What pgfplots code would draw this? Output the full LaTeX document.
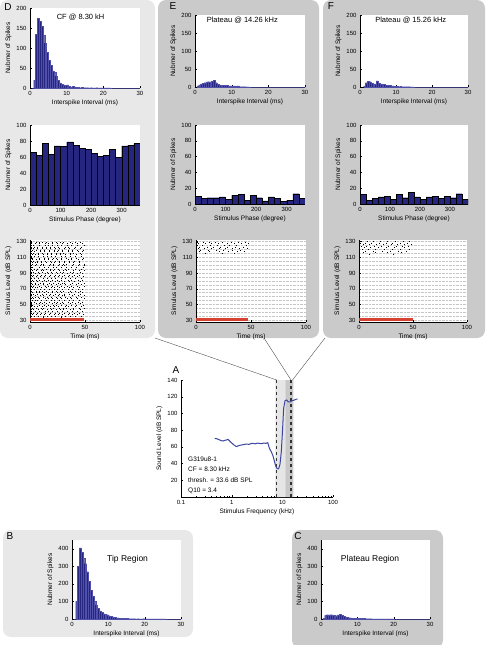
\documentclass[border=0pt]{standalone}
\usepackage{fontspec}
\setmainfont{Liberation Sans}
\usepackage{pgfplots}
\usepackage{pgfplotstable}
\pgfplotsset{compat=1.18}
\definecolor{barblue}{RGB}{38,38,128}
\definecolor{baredge}{RGB}{80,80,170}
\definecolor{lightpanel}{RGB}{232,232,232}
\definecolor{darkpanel}{RGB}{202,202,202}
\definecolor{curveblue}{RGB}{60,70,160}
\definecolor{stimred}{RGB}{215,65,50}
\definecolor{bandlight}{RGB}{230,230,230}
\definecolor{banddark}{RGB}{200,200,200}

\pgfplotsset{
  panel/.style={
    scale only axis,
    axis background/.style={fill=white},
    axis x line*=bottom, axis y line*=left,
    axis line style={-, line width=0.35pt},
    tick align=inside,
    major tick length=2pt, minor tick length=1.2pt,
    every tick/.append style={line width=0.3pt, black},
    tick label style={font=\fontsize{6}{6}\selectfont},
    every axis label/.append style={font=\fontsize{6.5}{7}\selectfont},
    /pgf/number format/assume math mode=true,
    xlabel style={yshift=2.5pt}, ylabel style={yshift=-2pt},
  },
  isi/.style={panel, xmin=0, xmax=30, ymin=0, ymax=200, xtick={0,10,20,30}, ytick={0,50,100,150,200},
    xlabel={Interspike Interval (ms)}, ylabel={Nubmer of Spikes}},
  isibig/.style={panel, xmin=0, xmax=30, ymin=0, ymax=450, xtick={0,10,20,30}, ytick={0,100,200,300,400},
    xlabel={Interspike Interval (ms)}, ylabel={Nubmer of Spikes}},
  phase/.style={panel, xmin=0, xmax=360, ymin=0, ymax=100, xtick={0,100,200,300}, ytick={0,20,...,100},
    xlabel={Stimulus Phase (degree)}, ylabel={Nubmer of Spikes}},
  raster/.style={panel, xmin=0, xmax=100, ymin=28, ymax=132, xtick={0,50,100}, ytick={30,50,...,130},
    minor ytick={35,40,...,130}, ymajorgrids, yminorgrids,
    grid style={densely dotted, gray!45, line width=0.3pt},
    xlabel={Time (ms)}, ylabel={Simulus Level (dB SPL)}},
  isibar/.style={ybar interval, fill=barblue, draw=baredge, line width=0.2pt},
  phasebar/.style={ybar interval, fill=barblue, draw=black, line width=0.3pt},
  spikes/.style={only marks, mark=|, mark size=0.5pt, mark options={line width=0.35pt, black}},
  stim/.style={stimred, line width=3pt},
}

\pgfplotstableread{
x y
0.5 0
1.0 20
1.5 135
2.0 174
2.5 167
3.0 155
3.5 132
4.0 112
4.5 90
5.0 69
5.5 57
6.0 43
6.5 40
7.0 30
7.5 20
8.0 13
8.5 9
9.0 8
9.5 7
10.0 8
10.5 4
11.0 3
11.5 4
12.0 3
12.5 2
13.0 2
13.5 1
14.0 2
14.5 1
15.0 1
15.5 1
16.0 0.5
16.5 1
17.0 0.5
17.5 0.5
18.0 1
18.5 0.5
19.0 0.5
20.0 0.5
21.0 0.5
22.0 0
30.0 0
}\isiD

\pgfplotstableread{
x y
0.5 3
1.0 6
1.5 9
2.0 11
2.5 12
3.0 14
3.5 15
4.0 14
4.5 16
5.0 18
5.5 12
6.0 8
6.5 6
7.0 5
7.5 5
8.0 4
8.5 5
9.0 3
9.5 3
10.0 2
10.5 3
11.0 2
11.5 3
12.0 1
12.5 1
13.0 1
14.0 0.5
15.0 0
30.0 0
}\isiE

\pgfplotstableread{
x y
1.0 3
1.5 12
2.0 16
2.5 15
3.0 10
3.5 8
4.0 9
4.5 17
5.0 11
5.5 9
6.0 6
6.5 8
7.0 5
7.5 4
8.0 4
8.5 2
9.0 3
9.5 2
10.0 2
10.5 1
11.0 2
11.5 1
12.0 1
13.0 1
14.0 0.5
15.0 0
30.0 0
}\isiF

\pgfplotstableread{
x y
0.5 0
1.0 100
1.5 300
2.0 405
2.5 380
3.0 345
3.5 315
4.0 270
4.5 215
5.0 165
5.5 130
6.0 100
6.5 80
7.0 62
7.5 47
8.0 37
8.5 30
9.0 26
9.5 25
10.0 19
10.5 15
11.0 12
11.5 10
12.0 7
12.5 6
13.0 4
13.5 4
14.0 3
14.5 3
15.0 3
15.5 2
16.0 2
16.5 2
17.0 2
17.5 1
18.0 2
18.5 1
19.0 1
19.5 2
20.0 1
21.0 1
22.0 1
23.0 0.5
25.0 0.5
26.0 0
30.0 0
}\isiB

\pgfplotstableread{
x y
0.5 3
1.0 20
1.5 25
2.0 24
2.5 25
3.0 23
3.5 22
4.0 19
4.5 24
5.0 26
5.5 20
6.0 15
6.5 12
7.0 10
7.5 8
8.0 6
8.5 5
9.0 5
9.5 4
10.0 5
10.5 4
11.0 3
11.5 3
12.0 2
12.5 2
13.0 2
14.0 1
15.0 1
16.0 0.5
18.0 0.5
20.0 0
30.0 0
}\isiC

\pgfplotstableread{
x y
0 66
20 62
40 77
60 63
80 74
100 73
120 79
140 75
160 71
180 70
200 65
220 61
240 62
260 70
280 60
300 74
320 75
340 77
360 0
}\phD

\pgfplotstableread{
x y
0 10
20 7
40 8
60 8
80 9
100 6
120 11
140 12
160 5
180 11
200 8
220 4
240 9
260 7
280 3
300 5
320 13
340 7
360 0
}\phE

\pgfplotstableread{
x y
0 12
20 5
40 7
60 9
80 10
100 6
120 12
140 8
160 15
180 9
200 6
220 9
240 10
260 7
280 10
300 8
320 13
340 6
360 0
}\phF

\pgfplotstableread{
f db
0.464 70.2
0.52 69.5
0.582 68.2
0.63 67.4
0.676 67.0
0.73 67.8
0.786 68.2
0.847 69.0
0.92 66.8
0.985 65.0
1.1 62.5
1.235 60.3
1.38 61.5
1.55 62.2
1.75 62.8
1.94 63.4
2.2 63.0
2.45 64.0
2.62 64.2
2.9 63.6
3.2 64.4
3.54 64.2
3.9 63.8
4.3 64.6
4.7 64.2
5.15 65.0
5.56 58.3
6.0 54.5
6.46 50.3
6.9 44.0
7.29 38.3
7.65 35.2
7.98 33.9
8.3 33.6
8.48 34.3
8.75 36.5
9.0 39.5
9.55 54.3
10.1 80.2
10.6 106.0
11.3 115.3
12.2 116.1
13.1 113.7
14.3 113.7
15.26 115.0
15.9 115.3
17.2 116.0
18.5 116.9
19.95 117.3
}\tuning

\begin{document}
\begin{tikzpicture}[x=1pt,y=1pt]
\path[use as bounding box] (0,0) rectangle (486,-645);
% panel backgrounds
\fill[lightpanel, rounded corners=8pt] (0,0) rectangle (155,-338);
\fill[darkpanel, rounded corners=8pt] (158,0) rectangle (319,-338);
\fill[darkpanel, rounded corners=8pt] (323,0) rectangle (485,-338);
\fill[lightpanel, rounded corners=8pt] (3,-530) rectangle (193,-637);
\fill[darkpanel, rounded corners=8pt] (292,-530) rectangle (443,-648);
% connecting lines
\draw[line width=0.35pt, gray!50!black] (155,-338) -- (276.7,-380);
\draw[line width=0.35pt, gray!50!black] (264,-338) -- (291,-380);
\draw[line width=0.35pt, gray!50!black] (325,-338) -- (292.5,-380);
% panel letters
\node[font=\fontsize{10}{10}\selectfont] at (8,-7) {D};
\node[font=\fontsize{10}{10}\selectfont] at (173,-6) {E};
\node[font=\fontsize{10}{10}\selectfont] at (331,-6) {F};
\node[font=\fontsize{10}{10}\selectfont] at (176,-370) {A};
\node[font=\fontsize{10}{10}\selectfont] at (10,-536) {B};
\node[font=\fontsize{10}{10}\selectfont] at (298,-536) {C};

% ---------------- D ----------------
\begin{axis}[isi, at={(30pt,-88pt)}, anchor=south west, width=110pt, height=80pt]
\addplot[isibar] table {\isiD};
\node[font=\fontsize{7.5}{8}\selectfont] at (rel axis cs:0.46,0.88) {CF @ 8.30 kH};
\end{axis}
\begin{axis}[phase, at={(30pt,-205pt)}, anchor=south west, width=110pt, height=80pt]
\addplot[phasebar] table {\phD};
\end{axis}
\begin{axis}[raster, at={(30pt,-321.7pt)}, anchor=south west, width=110pt, height=81.7pt]
\addplot[spikes] table[row sep=\\] {x y\\
1.2 35\\ 3.9 35\\ 7.6 35\\ 11.8 35\\ 15.3 35\\ 19.7 35\\ 23.1 35\\ 27.9 35\\ 32.4 35\\ 36.2 35\\ 41.5 35\\ 46.8 35\\
1.6 37\\ 5.2 37\\ 9.1 37\\ 12.7 37\\ 17.4 37\\ 21.6 37\\ 25.8 37\\ 29.3 37\\ 34.9 37\\ 38.4 37\\ 43.1 37\\ 48.5 37\\
0.9 39\\ 2.8 39\\ 6.9 39\\ 10.4 39\\ 14.1 39\\ 18.6 39\\ 22.9 39\\ 26.7 39\\ 31.2 39\\ 35.5 39\\ 40.2 39\\ 44.7 39\\
1.4 41\\ 4.6 41\\ 8.3 41\\ 13.5 41\\ 16.8 41\\ 20.4 41\\ 24.6 41\\ 28.8 41\\ 33.7 41\\ 37.9 41\\ 42.6 41\\ 47.3 41\\
1.1 43\\ 3.3 43\\ 7.1 43\\ 11.2 43\\ 15.9 43\\ 19.2 43\\ 23.8 43\\ 27.4 43\\ 30.6 43\\ 36.8 43\\ 39.7 43\\ 45.9 43\\
1.8 45\\ 5.7 45\\ 9.8 45\\ 12.3 45\\ 17.9 45\\ 21.1 45\\ 26.2 45\\ 29.9 45\\ 33.1 45\\ 38.9 45\\ 44.3 45\\ 49.2 45\\
1.0 47\\ 4.1 47\\ 6.4 47\\ 10.9 47\\ 14.7 47\\ 18.1 47\\ 22.4 47\\ 25.3 47\\ 31.8 47\\ 35.1 47\\ 41.1 47\\ 46.2 47\\
1.5 49\\ 2.4 49\\ 8.7 49\\ 13.1 49\\ 16.3 49\\ 20.9 49\\ 24.2 49\\ 28.3 49\\ 32.9 49\\ 37.4 49\\ 42.2 49\\ 48.1 49\\
1.3 51\\ 5.5 51\\ 7.9 51\\ 11.5 51\\ 15.1 51\\ 19.9 51\\ 23.4 51\\ 27.1 51\\ 30.3 51\\ 36.5 51\\ 40.8 51\\ 45.3 51\\
0.8 53\\ 3.6 53\\ 9.4 53\\ 12.9 53\\ 17.1 53\\ 21.8 53\\ 25.1 53\\ 29.6 53\\ 34.3 53\\ 38.1 53\\ 43.7 53\\ 47.8 53\\
1.7 55\\ 4.9 55\\ 6.6 55\\ 10.1 55\\ 14.4 55\\ 18.9 55\\ 22.1 55\\ 26.4 55\\ 31.5 55\\ 35.8 55\\ 39.4 55\\ 44.9 55\\
1.2 57\\ 2.9 57\\ 8.1 57\\ 13.9 57\\ 16.5 57\\ 20.1 57\\ 24.9 57\\ 28.1 57\\ 33.4 57\\ 37.2 57\\ 42.9 57\\ 49.5 57\\
1.9 59\\ 5.1 59\\ 7.3 59\\ 11.6 59\\ 15.6 59\\ 19.4 59\\ 23.6 59\\ 27.7 59\\ 32.1 59\\ 36.9 59\\ 41.8 59\\ 46.5 59\\
1.1 61\\ 4.4 61\\ 9.6 61\\ 12.1 61\\ 17.6 61\\ 21.4 61\\ 25.5 61\\ 29.1 61\\ 30.9 61\\ 38.6 61\\ 44.1 61\\ 48.8 61\\
1.4 63\\ 3.1 63\\ 6.2 63\\ 10.7 63\\ 14.9 63\\ 18.4 63\\ 22.7 63\\ 26.1 63\\ 31.1 63\\ 35.3 63\\ 40.5 63\\ 45.6 63\\
1.6 65\\ 5.9 65\\ 8.5 65\\ 13.3 65\\ 16.1 65\\ 20.6 65\\ 24.4 65\\ 28.6 65\\ 34.6 65\\ 37.7 65\\ 43.4 65\\ 47.6 65\\
1.3 67\\ 5.5 67\\ 7.9 67\\ 11.5 67\\ 15.1 67\\ 19.9 67\\ 23.4 67\\ 27.1 67\\ 30.3 67\\ 36.5 67\\ 40.8 67\\ 45.3 67\\
0.8 69\\ 3.6 69\\ 9.4 69\\ 12.9 69\\ 17.1 69\\ 21.8 69\\ 25.1 69\\ 29.6 69\\ 34.3 69\\ 38.1 69\\ 43.7 69\\ 47.8 69\\
1.7 71\\ 4.9 71\\ 6.6 71\\ 10.1 71\\ 14.4 71\\ 18.9 71\\ 22.1 71\\ 26.4 71\\ 31.5 71\\ 35.8 71\\ 39.4 71\\ 44.9 71\\
1.2 73\\ 2.9 73\\ 8.1 73\\ 13.9 73\\ 16.5 73\\ 20.1 73\\ 24.9 73\\ 28.1 73\\ 33.4 73\\ 37.2 73\\ 42.9 73\\ 49.5 73\\
1.9 75\\ 5.1 75\\ 7.3 75\\ 11.6 75\\ 15.6 75\\ 19.4 75\\ 23.6 75\\ 27.7 75\\ 32.1 75\\ 36.9 75\\ 41.8 75\\ 46.5 75\\
1.1 77\\ 4.4 77\\ 9.6 77\\ 12.1 77\\ 17.6 77\\ 21.4 77\\ 25.5 77\\ 29.1 77\\ 30.9 77\\ 38.6 77\\ 44.1 77\\ 48.8 77\\
1.4 79\\ 3.1 79\\ 6.2 79\\ 10.7 79\\ 14.9 79\\ 18.4 79\\ 22.7 79\\ 26.1 79\\ 31.1 79\\ 35.3 79\\ 40.5 79\\ 45.6 79\\
1.6 81\\ 5.9 81\\ 8.5 81\\ 13.3 81\\ 16.1 81\\ 20.6 81\\ 24.4 81\\ 28.6 81\\ 34.6 81\\ 37.7 81\\ 43.4 81\\ 47.6 81\\
1.2 83\\ 3.9 83\\ 7.6 83\\ 11.8 83\\ 15.3 83\\ 19.7 83\\ 23.1 83\\ 27.9 83\\ 32.4 83\\ 36.2 83\\ 41.5 83\\ 46.8 83\\
1.6 85\\ 5.2 85\\ 9.1 85\\ 12.7 85\\ 17.4 85\\ 21.6 85\\ 25.8 85\\ 29.3 85\\ 34.9 85\\ 38.4 85\\ 43.1 85\\ 48.5 85\\
0.9 87\\ 2.8 87\\ 6.9 87\\ 10.4 87\\ 14.1 87\\ 18.6 87\\ 22.9 87\\ 26.7 87\\ 31.2 87\\ 35.5 87\\ 40.2 87\\ 44.7 87\\
1.4 89\\ 4.6 89\\ 8.3 89\\ 13.5 89\\ 16.8 89\\ 20.4 89\\ 24.6 89\\ 28.8 89\\ 33.7 89\\ 37.9 89\\ 42.6 89\\ 47.3 89\\
1.1 91\\ 3.3 91\\ 7.1 91\\ 11.2 91\\ 15.9 91\\ 19.2 91\\ 23.8 91\\ 27.4 91\\ 30.6 91\\ 36.8 91\\ 39.7 91\\ 45.9 91\\
1.8 93\\ 5.7 93\\ 9.8 93\\ 12.3 93\\ 17.9 93\\ 21.1 93\\ 26.2 93\\ 29.9 93\\ 33.1 93\\ 38.9 93\\ 44.3 93\\ 49.2 93\\
1.0 95\\ 4.1 95\\ 6.4 95\\ 10.9 95\\ 14.7 95\\ 18.1 95\\ 22.4 95\\ 25.3 95\\ 31.8 95\\ 35.1 95\\ 41.1 95\\ 46.2 95\\
1.5 97\\ 2.4 97\\ 8.7 97\\ 13.1 97\\ 16.3 97\\ 20.9 97\\ 24.2 97\\ 28.3 97\\ 32.9 97\\ 37.4 97\\ 42.2 97\\ 48.1 97\\
1.1 99\\ 4.4 99\\ 9.6 99\\ 12.1 99\\ 17.6 99\\ 21.4 99\\ 25.5 99\\ 29.1 99\\ 30.9 99\\ 38.6 99\\ 44.1 99\\ 48.8 99\\
1.8 101\\ 5.7 101\\ 9.8 101\\ 12.3 101\\ 17.9 101\\ 21.1 101\\ 26.2 101\\ 29.9 101\\ 33.1 101\\ 38.9 101\\ 44.3 101\\ 49.2 101\\
1.7 103\\ 4.9 103\\ 6.6 103\\ 10.1 103\\ 14.4 103\\ 18.9 103\\ 22.1 103\\ 26.4 103\\ 31.5 103\\ 35.8 103\\ 39.4 103\\ 44.9 103\\
0.9 105\\ 2.8 105\\ 6.9 105\\ 10.4 105\\ 14.1 105\\ 18.6 105\\ 22.9 105\\ 26.7 105\\ 31.2 105\\ 35.5 105\\ 40.2 105\\ 44.7 105\\
1.6 107\\ 5.9 107\\ 8.5 107\\ 13.3 107\\ 16.1 107\\ 20.6 107\\ 24.4 107\\ 28.6 107\\ 34.6 107\\ 37.7 107\\ 43.4 107\\ 47.6 107\\
1.5 109\\ 2.4 109\\ 8.7 109\\ 13.1 109\\ 16.3 109\\ 20.9 109\\ 24.2 109\\ 28.3 109\\ 32.9 109\\ 37.4 109\\ 42.2 109\\ 48.1 109\\
1.2 111\\ 3.9 111\\ 7.6 111\\ 11.8 111\\ 15.3 111\\ 19.7 111\\ 23.1 111\\ 27.9 111\\ 32.4 111\\ 36.2 111\\ 41.5 111\\ 46.8 111\\
1.9 113\\ 5.1 113\\ 7.3 113\\ 11.6 113\\ 15.6 113\\ 19.4 113\\ 23.6 113\\ 27.7 113\\ 32.1 113\\ 36.9 113\\ 41.8 113\\ 46.5 113\\
1.1 115\\ 3.3 115\\ 7.1 115\\ 11.2 115\\ 15.9 115\\ 19.2 115\\ 23.8 115\\ 27.4 115\\ 30.6 115\\ 36.8 115\\ 39.7 115\\ 45.9 115\\
0.8 117\\ 3.6 117\\ 9.4 117\\ 12.9 117\\ 17.1 117\\ 21.8 117\\ 25.1 117\\ 29.6 117\\ 34.3 117\\ 38.1 117\\ 43.7 117\\ 47.8 117\\
1.6 119\\ 5.2 119\\ 9.1 119\\ 12.7 119\\ 17.4 119\\ 21.6 119\\ 25.8 119\\ 29.3 119\\ 34.9 119\\ 38.4 119\\ 43.1 119\\ 48.5 119\\
1.4 121\\ 3.1 121\\ 6.2 121\\ 10.7 121\\ 14.9 121\\ 18.4 121\\ 22.7 121\\ 26.1 121\\ 31.1 121\\ 35.3 121\\ 40.5 121\\ 45.6 121\\
1.0 123\\ 4.1 123\\ 6.4 123\\ 10.9 123\\ 14.7 123\\ 18.1 123\\ 22.4 123\\ 25.3 123\\ 31.8 123\\ 35.1 123\\ 41.1 123\\ 46.2 123\\
1.2 125\\ 2.9 125\\ 8.1 125\\ 13.9 125\\ 16.5 125\\ 20.1 125\\ 24.9 125\\ 28.1 125\\ 33.4 125\\ 37.2 125\\ 42.9 125\\ 49.5 125\\
1.4 127\\ 4.6 127\\ 8.3 127\\ 13.5 127\\ 16.8 127\\ 20.4 127\\ 24.6 127\\ 28.8 127\\ 33.7 127\\ 37.9 127\\ 42.6 127\\ 47.3 127\\
1.3 129\\ 5.5 129\\ 7.9 129\\ 11.5 129\\ 15.1 129\\ 19.9 129\\ 23.4 129\\ 27.1 129\\ 30.3 129\\ 36.5 129\\ 40.8 129\\ 45.3 129\\
28.5 33\\ 12.4 33.5\\
};
\addplot[stim] coordinates {(0,30.5) (49,30.5)};
\end{axis}

% ---------------- E ----------------
\begin{axis}[isi, at={(195pt,-87pt)}, anchor=south west, width=110pt, height=72pt]
\addplot[isibar] table {\isiE};
\node[font=\fontsize{7.5}{8}\selectfont] at (rel axis cs:0.43,0.93) {Plateau @ 14.26 kHz};
\end{axis}
\begin{axis}[phase, at={(195pt,-204pt)}, anchor=south west, width=110pt, height=79pt]
\addplot[phasebar] table {\phE};
\end{axis}
\begin{axis}[raster, at={(196pt,-321.7pt)}, anchor=south west, width=110pt, height=81.7pt]
\addplot[spikes] table[row sep=\\] {x y\\
1.5 129\\ 6.2 129\\ 11.8 129\\ 17.3 129\\ 24.1 129\\ 31.6 129\\ 38.2 129\\ 44.9 129\\
2.3 127\\ 8.7 127\\ 14.2 127\\ 20.5 127\\ 27.9 127\\ 34.4 127\\ 41.3 127\\ 47.1 127\\
1.1 125\\ 5.4 125\\ 12.6 125\\ 19.1 125\\ 25.7 125\\ 30.2 125\\ 36.8 125\\ 45.5 125\\
3.2 123\\ 9.9 123\\ 15.8 123\\ 22.4 123\\ 28.6 123\\ 35.9 123\\ 42.7 123\\
1.8 121\\ 7.3 121\\ 13.4 121\\ 21.2 121\\ 26.8 121\\ 33.1 121\\ 39.6 121\\ 46.3 121\\
4.1 119\\ 10.7 119\\ 18.2 119\\ 24.9 119\\ 32.5 119\\ 40.1 119\\
2.6 117\\ 12.1 117\\ 20.9 117\\ 29.4 117\\ 37.6 117\\ 44.2 117\\
8.2 115\\ 23.5 115\\ 35.1 115\\
};
\addplot[stim] coordinates {(0,30.5) (47,30.5)};
\end{axis}

% ---------------- F ----------------
\begin{axis}[isi, at={(360pt,-87pt)}, anchor=south west, width=108pt, height=72pt]
\addplot[isibar] table {\isiF};
\node[font=\fontsize{7.5}{8}\selectfont] at (rel axis cs:0.47,0.93) {Plateau @ 15.26 kHz};
\end{axis}
\begin{axis}[phase, at={(360pt,-204pt)}, anchor=south west, width=108pt, height=79pt]
\addplot[phasebar] table {\phF};
\end{axis}
\begin{axis}[raster, at={(359pt,-321.7pt)}, anchor=south west, width=108pt, height=81.7pt]
\addplot[spikes] table[row sep=\\] {x y\\
2.1 130\\ 7.8 130\\ 13.5 130\\ 19.9 130\\ 26.4 130\\ 33.8 130\\ 40.6 130\\ 46.2 130\\
1.3 128\\ 5.9 128\\ 11.2 128\\ 18.4 128\\ 24.7 128\\ 31.1 128\\ 37.9 128\\ 44.8 128\\
3.6 126\\ 9.4 126\\ 16.1 126\\ 22.8 126\\ 29.5 126\\ 35.2 126\\ 42.1 126\\ 48.3 126\\
1.7 124\\ 6.8 124\\ 14.3 124\\ 20.6 124\\ 27.2 124\\ 34.7 124\\ 39.8 124\\ 45.6 124\\
4.4 122\\ 10.5 122\\ 17.7 122\\ 25.3 122\\ 32.4 122\\ 41.5 122\\
2.8 120\\ 8.9 120\\ 15.2 120\\ 23.1 120\\ 30.8 120\\ 38.3 120\\ 46.9 120\\
6.1 118\\ 12.8 118\\ 21.7 118\\ 28.4 118\\ 36.6 118\\ 43.9 118\\
3.9 116\\ 14.9 116\\ 26.1 116\\ 39.2 116\\
9.7 114\\ 31.9 114\\
};
\addplot[stim] coordinates {(0,30.5) (50,30.5)};
\end{axis}

% ---------------- A ----------------
\begin{axis}[panel, at={(181pt,-497pt)}, anchor=south west, width=152pt, height=117pt,
  xmode=log, xmin=0.1, xmax=100, ymin=0, ymax=140, log ticks with fixed point,
  xtick={0.1,1,10,100}, xticklabels={0.1,1,10,100},
  minor xtick={0.2,0.3,0.4,0.5,0.6,0.7,0.8,0.9,2,3,4,5,6,7,8,9,20,30,40,50,60,70,80,90},
  ytick={20,40,...,140},
  xlabel={Stimulus Frequency (kHz)}, ylabel={Sound Level (dB SPL)}]
\addplot[fill=bandlight, draw=none] coordinates {(7.3,0) (7.3,140) (11.5,140) (11.5,0)} \closedcycle;
\addplot[fill=banddark, draw=none] coordinates {(11.5,0) (11.5,140) (16.5,140) (16.5,0)} \closedcycle;
\addplot[dashed, gray!40!black, line width=0.4pt] coordinates {(7.4,0) (7.4,140)};
\addplot[dashed, gray!40!black, line width=0.4pt] coordinates {(14.26,0) (14.26,140)};
\addplot[dashed, gray!40!black, line width=0.4pt] coordinates {(15.26,0) (15.26,140)};
\addplot[curveblue, line width=1pt] table[x=f, y=db] {\tuning};
\node[anchor=north west, align=left, inner sep=0pt, font=\fontsize{6.5}{10.5}\selectfont] at (rel axis cs:0.046,0.345)
  {G319u8-1\\CF = 8.30 kHz\\thresh. = 33.6 dB SPL\\Q10 = 3.4};
\end{axis}

% ---------------- B ----------------
\begin{axis}[isibig, at={(72pt,-619pt)}, anchor=south west, width=109pt, height=79pt]
\addplot[isibar] table {\isiB};
\node[font=\fontsize{8.5}{9}\selectfont] at (rel axis cs:0.51,0.76) {Tip Region};
\end{axis}

% ---------------- C ----------------
\begin{axis}[isibig, at={(321pt,-619pt)}, anchor=south west, width=109pt, height=79pt]
\addplot[isibar] table {\isiC};
\node[font=\fontsize{8.5}{9}\selectfont] at (rel axis cs:0.45,0.76) {Plateau Region};
\end{axis}
\end{tikzpicture}
\end{document}
